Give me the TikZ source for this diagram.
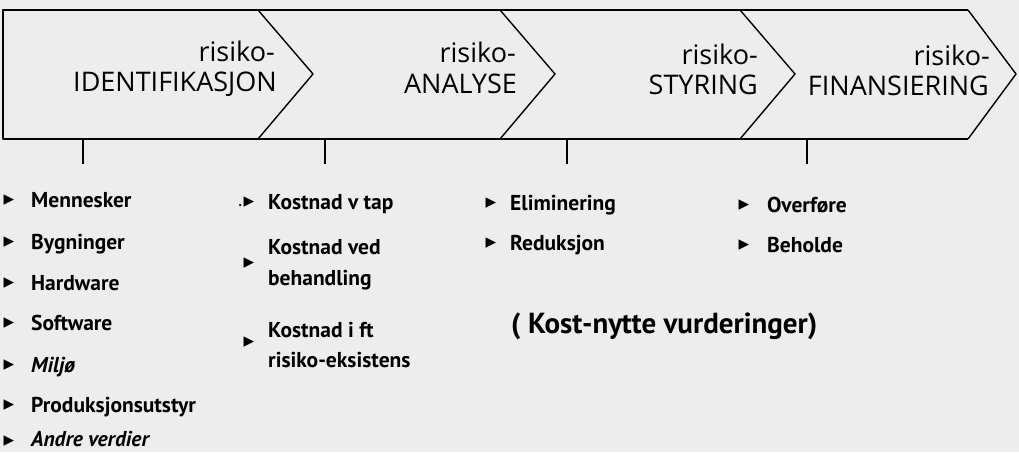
\documentclass[tikz,border=0pt]{standalone}
\usepackage{fontspec}
\setmainfont{PT Sans}
\newfontfamily\headfont{Open Sans}
\newfontfamily\bulfont{DejaVu Sans}
\definecolor{scan}{gray}{0.93}
\begin{document}
\begin{tikzpicture}[x=1pt,y=-1pt]

\tikzstyle{band}   = [draw, line width=1.4pt, line join=round]
\tikzstyle{tick}   = [draw, line width=1.1pt]
\tikzstyle{head}   = [anchor=base east, inner sep=0pt, font=\headfont\fontsize{27}{30}\selectfont]
\tikzstyle{item}   = [anchor=base west, inner sep=0pt, font=\bfseries\fontsize{21.5}{24}\selectfont]
\tikzstyle{itemit} = [item, font=\bfseries\itshape\fontsize{21.5}{24}\selectfont]
\tikzstyle{big}    = [item, font=\bfseries\fontsize{29}{32}\selectfont]
\tikzstyle{bul}    = [inner sep=0pt, font=\bulfont\fontsize{21}{21}\selectfont]

\fill [scan] (0,0) rectangle (1019,452);
\useasboundingbox (0,0) rectangle (1019,452);

\draw [band] (968,10) -- (3,10) -- (3,139) -- (968,139);
\foreach \x/\tip in {258/313,500/555,740/795,968/1016}
  \draw [band] (\x,10) -- (\tip,74) -- (\x,139);

\node [head] (risk1) at (275,62) {risiko-};
\node [head] (name1) at (277,92) {IDENTIFIKASJON};
\node [head] (risk2) at (516,63) {risiko-};
\node [head] (name2) at (517,93) {ANALYSE};
\node [head] (risk3) at (758,64) {risiko-};
\node [head] (name3) at (758,94) {STYRING};
\node [head] (risk4) at (990,65) {risiko-};
\node [head] (name4) at (989,95) {FINANSIERING};

\foreach \x [count=\i] in {83,325,567,807} {
  \coordinate (top\i) at (\x,139);
  \coordinate (foot\i) at (\x,164);
  \draw [tick] (top\i) -- (foot\i);
}

\node [bul] (b11) at (9,200) {▸};
\node [bul] (b12) at (9,242) {▸};
\node [bul] (b13) at (9,283) {▸};
\node [bul] (b14) at (9,323) {▸};
\node [bul] (b15) at (9,365) {▸};
\node [bul] (b16) at (9,405) {▸};
\node [bul] (b17) at (9,441) {▸};
\node [item]   (Menn)  at (31,207) {Mennesker};
\node [item]   (Bygn)  at (31,249) {Bygninger};
\node [item]   (Hard)  at (31,290) {Hardware};
\node [item]   (Soft)  at (31,330) {Software};
\node [itemit] (Milj)  at (31,372) {Miljø};
\node [item]   (Prod)  at (31,412) {Produksjonsutstyr};
\node [itemit] (Andre) at (31,446) {Andre verdier};

\node [circle, fill, inner sep=0pt, minimum size=2.5pt] (dot2) at (240,205) {};
\node [bul] (b21) at (249,202) {▸};
\node [bul] (b22) at (249,263) {▸};
\node [bul] (b23) at (249,342) {▸};
\node [item] (Ktap)  at (268,209) {Kostnad v tap};
\node [item] (Kved)  at (268,254) {Kostnad ved};
\node [item] (Kbeh)  at (268,285) {behandling};
\node [item] (Kift)  at (268,337) {Kostnad i ft};
\node [item] (Keks)  at (268,367) {risiko-eksistens};

\node [bul] (b31) at (491,203) {▸};
\node [bul] (b32) at (491,243) {▸};
\node [item] (Elim) at (510,210) {Eliminering};
\node [item] (Redu) at (510,250) {Reduksjon};
\node [big]  (Kost) at (511,333) {( Kost-nytte vurderinger)};

\node [bul] (b41) at (744,205) {▸};
\node [bul] (b42) at (744,245) {▸};
\node [item] (Over) at (767,212) {Overføre};
\node [item] (Beho) at (767,252) {Beholde};
\end{tikzpicture}
\end{document}
